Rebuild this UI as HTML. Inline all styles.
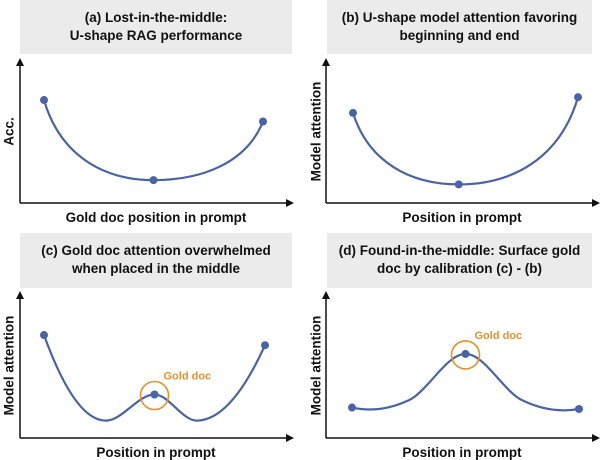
<!DOCTYPE html>
<html><head><meta charset="utf-8"><style>
html,body{margin:0;padding:0;background:#fff;}
svg{display:block;font-family:"Liberation Sans",sans-serif;}
.t{font-weight:bold;font-size:13.5px;fill:#111;text-anchor:middle;}
.lbl{font-weight:bold;font-size:13.5px;fill:#111;text-anchor:middle;}
</style></head><body>
<svg id="fig" width="600" height="460" viewBox="0 0 600 460">
<defs><marker id="arr" markerWidth="8" markerHeight="8" refX="6" refY="4" orient="auto" markerUnits="userSpaceOnUse"><path d="M0,0 L8,4 L0,8 z" fill="#111"/></marker></defs>
</svg>
<script>
// Panel data (positions 0..1 along x-axis, values 0..1 along y-axis)
const posA = [0, 0.5, 1];
const valA = [0.72, 0.16, 0.57];
const posB = [0, 0.47, 1];
const valB = [0.63, 0.13, 0.74];
const posC = [0, 0.28, 0.5, 0.69, 1];
const valC = [0.71, 0.12, 0.30, 0.12, 0.64];
const markC = [0, 2, 4];
const posD = [0, 0.25, 0.5, 0.75, 1];
const valD = [0.21, 0.26, 0.58, 0.26, 0.20];
const markD = [0, 2, 4];
const titles = [
 ["(a) Lost-in-the-middle:","U-shape RAG performance"],
 ["(b) U-shape model attention favoring","beginning and end"],
 ["(c) Gold doc attention overwhelmed","when placed in the middle"],
 ["(d) Found-in-the-middle: Surface gold","doc by calibration (c) - (b)"]
];
const ylabels = ["Acc.","Model attention","Model attention","Model attention"];
const xlabels = ["Gold doc position in prompt","Position in prompt","Position in prompt","Position in prompt"];

const svg = document.getElementById('fig');
const NS = 'http://www.w3.org/2000/svg';
function mk(tag, attrs, parent){const e=document.createElementNS(NS,tag);for(const k in attrs)e.setAttribute(k,attrs[k]);(parent||svg).appendChild(e);return e;}

const panels = [
 {bx:20,by:0,bw:272,bh:54,ax:20,atop:60,abot:203,aright:292,x0:44,x1:263,pos:posA,val:valA,marks:[0,1,2],ylx:10,gold:false},
 {bx:327,by:0,bw:265,bh:54,ax:326,atop:60,abot:203,aright:598,x0:353,x1:578,pos:posB,val:valB,marks:[0,1,2],ylx:317,gold:false},
 {bx:20,by:233,bw:272,bh:55,ax:20,atop:293,abot:438,aright:292,x0:44,x1:265,pos:posC,val:valC,marks:markC,ylx:10,gold:true},
 {bx:327,by:233,bw:265,bh:55,ax:326,atop:293,abot:438,aright:598,x0:352,x1:579,pos:posD,val:valD,marks:markD,ylx:317,gold:true}
];
const names=['a','b','c','d'];
panels.forEach((p,i)=>{
 const g=mk('g',{});
 
 
 const box=mk('rect',{x:p.bx,y:p.by,width:p.bw,height:p.bh,fill:'#ebebeb'},g);
 
 
 const cx=p.bx+p.bw/2;
 titles[i].forEach((s,j)=>{const t=mk('text',{x:cx,y:p.by+22+j*18,class:'t'},g);t.textContent=s;
  
  });
 const ya=mk('line',{x1:p.ax,y1:p.abot,x2:p.ax,y2:p.atop,stroke:'#111','stroke-width':1.5,'marker-end':'url(#arr)'},g);
 
 
 const xa=mk('line',{x1:p.ax,y1:p.abot,x2:p.aright,y2:p.abot,stroke:'#111','stroke-width':1.5,'marker-end':'url(#arr)'},g);
 
 
 const xl=mk('text',{x:(p.ax+p.aright)/2,y:p.abot+19,class:'lbl'},g);xl.textContent=xlabels[i];
 
 
 const ymid=(p.atop+p.abot)/2;
 const yl=mk('text',{x:p.ylx,y:ymid,class:'lbl',transform:`rotate(-90 ${p.ylx} ${ymid})`,'dominant-baseline':'middle'},g);yl.textContent=ylabels[i];
 
 
 const sx=v=>p.x0+v*(p.x1-p.x0);
 const sy=v=>p.abot-v*(p.abot-p.atop);
 const pts=p.pos.map((x,k)=>[sx(x),sy(p.val[k])]);
 let d='M'+pts[0][0]+','+pts[0][1];
 if(pts.length===3){
  for(let k=0;k<2;k++){
   const p1=pts[k],p2=pts[k+1];
   let c1,c2;
   if(k===0){c1=[p1[0]+(p2[0]-p1[0])*0.15,p1[1]+(p2[1]-p1[1])*0.7];c2=[p2[0]-(p2[0]-p1[0])*0.45,p2[1]];}
   else{c1=[p1[0]+(p2[0]-p1[0])*0.45,p1[1]];c2=[p2[0]-(p2[0]-p1[0])*0.15,p2[1]-(p2[1]-p1[1])*0.7];}
   d+=` C${c1[0]},${c1[1]} ${c2[0]},${c2[1]} ${p2[0]},${p2[1]}`;
  }
 } else {
  const n=pts.length, m=[];
  const sec=k=>(pts[k+1][1]-pts[k][1])/(pts[k+1][0]-pts[k][0]);
  for(let k=1;k<n-1;k++){
   const s0=sec(k-1),s1=sec(k);
   m[k]=(s0*s1<=0)?0:(s0+s1)/2;
  }
  m[0]=2*sec(0)-m[1]; m[n-1]=2*sec(n-2)-m[n-2];
  for(let k=0;k<n-1;k++){
   const p1=pts[k],p2=pts[k+1],h=(p2[0]-p1[0])/3;
   d+=` C${p1[0]+h},${p1[1]+m[k]*h} ${p2[0]-h},${p2[1]-m[k+1]*h} ${p2[0]},${p2[1]}`;
  }
 }
 const path=mk('path',{d:d,fill:'none',stroke:'#4a62a6','stroke-width':2.2},g);
 
 
 p.marks.forEach(k=>{const c=mk('circle',{cx:pts[k][0],cy:pts[k][1],r:4,fill:'#4a62a6'},g);
  
  });
 if(p.gold){
  const mpt=pts[2];
  const gc=mk('circle',{cx:mpt[0],cy:mpt[1]+1,r:14,fill:'none',stroke:'#e8902a','stroke-width':1.6},g);
  
  
  const gt=mk('text',{x:mpt[0]+9,y:mpt[1]-15,fill:'#e8902a','font-size':'11px','font-weight':'bold'},g);gt.textContent='Gold doc';
  
  
 }
});
</script>
</body></html>
